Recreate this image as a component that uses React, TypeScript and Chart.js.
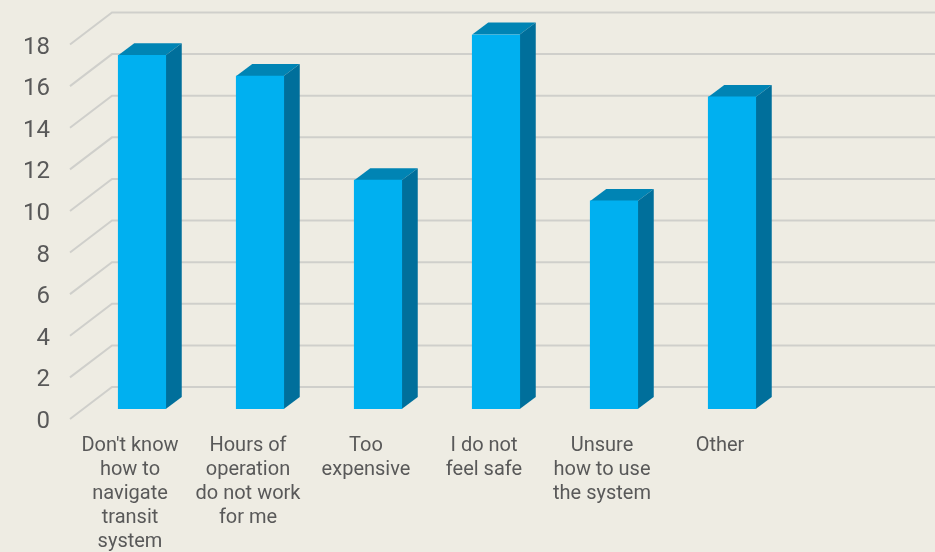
import React, { useEffect, useRef } from "react";
import { Chart, registerables } from "chart.js";

Chart.register(...registerables);

const categories: (string | string[])[] = [
  ["Don't know", "how to", "navigate", "transit", "system"],
  ["Hours of", "operation", "do not work", "for me"],
  ["Too", "expensive"],
  ["I do not", "feel safe"],
  ["Unsure", "how to use", "the system"],
  "Other",
  "",
];
const responses = [17, 16, 11, 18, 10, 15, null];
const axisTicks = [0, 2, 4, 6, 8, 10, 12, 14, 16, 18];

const PAGE = "#EEECE3";
const FRONT = "#00B0F0";
const TOP = "#0084B4";
const SIDE = "#006F9B";
const GRID = "#CFCFCB";
const TEXT = "#595959";
const FONT = "Roboto, 'Liberation Sans', sans-serif";

// Oblique offset of the bar boxes and of the wall behind them.
const BAR_DX = 16;
const BAR_DY = -12;
const WALL_LEFT = 70;
const WALL_BACK = 112;
const WALL_FRONT_DY = 10;
const WALL_BACK_DY = -22;

const polygon = (ctx: CanvasRenderingContext2D, pts: number[][], fill: string) => {
  ctx.beginPath();
  pts.forEach(([x, y], i) => (i ? ctx.lineTo(x, y) : ctx.moveTo(x, y)));
  ctx.closePath();
  ctx.fillStyle = fill;
  ctx.fill();
};

// Paints the wall and floor lines, and the top and side of every bar.
const depthPlugin = {
  id: "depth",
  beforeDatasetsDraw(chart: any) {
    const { ctx, scales, width } = chart;
    const y = scales.y;
    ctx.save();
    ctx.strokeStyle = GRID;
    ctx.lineWidth = 2;
    axisTicks.forEach((v) => {
      const p = y.getPixelForValue(v);
      ctx.beginPath();
      ctx.moveTo(WALL_LEFT, p + WALL_FRONT_DY);
      ctx.lineTo(WALL_BACK, p + WALL_BACK_DY);
      ctx.lineTo(width, p + WALL_BACK_DY);
      ctx.stroke();
    });
    chart.getDatasetMeta(0).data.forEach((bar: any, i: number) => {
      if (responses[i] == null) return;
      const half = bar.width / 2;
      const l = bar.x - half;
      const r = bar.x + half;
      const t = bar.y;
      const b = bar.base;
      polygon(ctx, [[l, t], [l + BAR_DX, t + BAR_DY], [r + BAR_DX, t + BAR_DY], [r, t]], TOP);
      polygon(ctx, [[r, t], [r + BAR_DX, t + BAR_DY], [r + BAR_DX, b + BAR_DY], [r, b]], SIDE);
    });
    ctx.restore();
  },
};

export default function App() {
  const ref = useRef<HTMLCanvasElement>(null);

  useEffect(() => {
    document.body.style.margin = "0";
    document.body.style.background = PAGE;
    const chart = new Chart(ref.current!, {
      type: "bar",
      data: {
        labels: categories as any,
        datasets: [
          {
            data: responses,
            backgroundColor: FRONT,
            barThickness: 47.5,
          },
        ],
      },
      options: {
        responsive: false,
        animation: false,
        layout: { padding: { top: 34.5, right: 26, left: 0, bottom: 0 } },
        plugins: { legend: { display: false }, tooltip: { enabled: false } },
        scales: {
          x: {
            grid: { display: false },
            border: { display: false },
            afterFit(scale: any) {
              scale.height = 143;
              scale.paddingLeft = 0;
              scale.paddingRight = 0;
            },
            ticks: {
              maxRotation: 0,
              autoSkip: false,
              color: TEXT,
              padding: 17,
              labelOffset: -12,
              font: { family: FONT, size: 20, lineHeight: 1.2 },
            },
          },
          y: {
            min: 0,
            max: 18,
            grid: { display: false },
            border: { display: false },
            afterFit(scale: any) {
              scale.width = 83;
              scale.paddingTop = 0;
              scale.paddingBottom = 0;
            },
            afterBuildTicks(scale: any) {
              scale.ticks = axisTicks.map((value) => ({ value }));
            },
            ticks: {
              color: TEXT,
              padding: 25,
              labelOffset: 13,
              font: { family: FONT, size: 24 },
            },
          },
        },
      },
      plugins: [depthPlugin],
    } as any);
    return () => chart.destroy();
  }, []);

  return <canvas ref={ref} width={935} height={552} style={{ display: "block" }} />;
}
